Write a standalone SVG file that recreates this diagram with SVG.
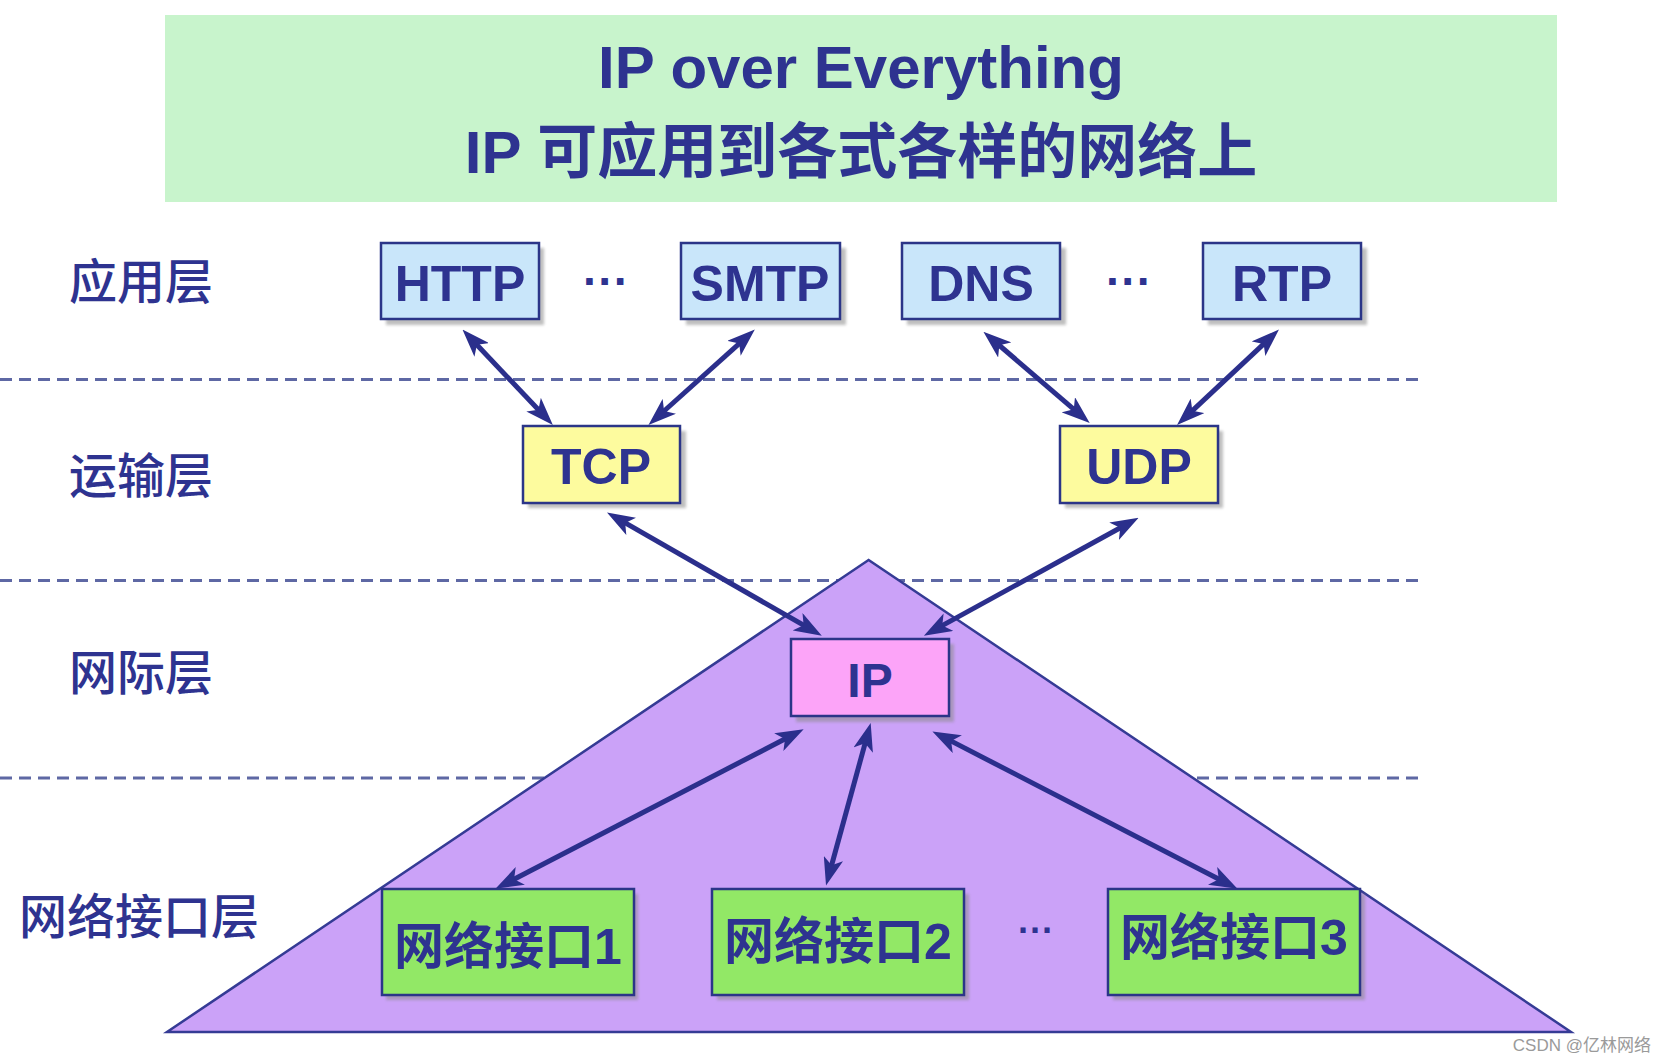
<svg xmlns="http://www.w3.org/2000/svg" width="1667" height="1062" viewBox="0 0 1667 1062">
<style>
.t{font-family:"Liberation Sans","Noto Sans CJK SC",sans-serif;fill:#2e3390;}
.b{font-weight:bold;}
.lay{font-family:"Noto Sans CJK SC","Liberation Sans",sans-serif;font-size:48px;fill:#2e3390;font-weight:500;}
.box{stroke:#2b3588;stroke-width:2.5;}
.sh{fill:#8a8a8a;opacity:0.55;filter:url(#blur);}
.app{fill:#c9e6fa;}
.tr{fill:#fdfb9e;}
.ip{fill:#fca4f8;}
.ni{fill:#92e866;}
.dash{stroke:#5e68a4;stroke-width:3;stroke-dasharray:12 7;fill:none;}
.arr{stroke:#2b2f8c;stroke-width:5;fill:none;marker-start:url(#ah);marker-end:url(#ah);}
</style>
<defs>
<filter id="blur" x="-10%" y="-10%" width="120%" height="120%"><feGaussianBlur stdDeviation="1.5"/></filter>
<marker id="ah" viewBox="0 0 28 20" markerWidth="28" markerHeight="20" refX="16" refY="10" markerUnits="userSpaceOnUse" orient="auto-start-reverse">
<path d="M0,0 L28,10 L0,20 L7,10 Z" fill="#2b2f8c"/>
</marker>
</defs>
<rect width="1667" height="1062" fill="#ffffff"/>

<g id="banner">
<rect x="165" y="15" width="1392" height="187" fill="#c8f4cc"/>
<text class="t b" x="861" y="88" font-size="60" text-anchor="middle">IP over Everything</text>
<text class="t b" x="861" y="173" font-size="60" text-anchor="middle">IP 可应用到各式各样的网络上</text>
</g>

<g id="layer-lines">
<line class="dash" x1="0" y1="379.5" x2="1425" y2="379.5"/>
<line class="dash" x1="0" y1="580.5" x2="1425" y2="580.5"/>
<line class="dash" x1="0" y1="778" x2="1425" y2="778"/>
</g>

<g id="pyramid">
<polygon points="868.6,560 167,1032 1571,1032" fill="#cba2f8" stroke="#353b95" stroke-width="2.5"/>
</g>

<g id="layer-labels">
<text class="lay" x="69" y="299">应用层</text>
<text class="lay" x="69" y="493">运输层</text>
<text class="lay" x="69" y="690">网际层</text>
<text class="lay" x="19" y="934">网络接口层</text>
</g>

<g id="http">
<rect class="sh" x="386" y="248" width="158" height="77"/>
<rect class="box app" x="381" y="243" width="158" height="76"/>
<text class="t b" x="460" y="301" font-size="50" text-anchor="middle">HTTP</text>
</g>
<g id="smtp">
<rect class="sh" x="686" y="248" width="160" height="77"/>
<rect class="box app" x="681" y="243" width="159" height="76"/>
<text class="t b" x="760" y="301" font-size="50" text-anchor="middle">SMTP</text>
</g>
<g id="dns">
<rect class="sh" x="907" y="248" width="159" height="77"/>
<rect class="box app" x="902" y="243" width="158" height="76"/>
<text class="t b" x="981" y="301" font-size="50" text-anchor="middle">DNS</text>
</g>
<g id="rtp">
<rect class="sh" x="1208" y="248" width="159" height="77"/>
<rect class="box app" x="1203" y="243" width="158" height="76"/>
<text class="t b" x="1282" y="301" font-size="50" text-anchor="middle">RTP</text>
</g>
<g id="dots-app">
<text class="t b" x="606" y="297" font-size="46" text-anchor="middle">···</text>
<text class="t b" x="1129" y="297" font-size="46" text-anchor="middle">···</text>
</g>

<g id="tcp">
<rect class="sh" x="528" y="431" width="158" height="77"/>
<rect class="box tr" x="523" y="426" width="157" height="77"/>
<text class="t b" x="601" y="484" font-size="50" text-anchor="middle">TCP</text>
</g>
<g id="udp">
<rect class="sh" x="1065" y="431" width="158" height="77"/>
<rect class="box tr" x="1060" y="426" width="158" height="77"/>
<text class="t b" x="1139" y="484" font-size="50" text-anchor="middle">UDP</text>
</g>

<g id="ip">
<rect class="sh" x="796" y="644" width="158" height="78"/>
<rect class="box ip" x="791" y="639" width="158" height="77"/>
<text class="t b" x="870" y="697" font-size="48" text-anchor="middle">IP</text>
</g>

<g id="ni1">
<rect class="sh" x="386" y="894" width="252" height="106"/>
<rect class="box ni" x="382" y="889" width="252" height="106"/>
<text class="t b" x="508" y="964" font-size="50" text-anchor="middle">网络接口1</text>
</g>
<g id="ni2">
<rect class="sh" x="717" y="894" width="252" height="106"/>
<rect class="box ni" x="712" y="889" width="252" height="106"/>
<text class="t b" x="838" y="959" font-size="50" text-anchor="middle">网络接口2</text>
</g>
<g id="ni3">
<rect class="sh" x="1113" y="894" width="252" height="106"/>
<rect class="box ni" x="1108" y="889" width="252" height="106"/>
<text class="t b" x="1234" y="955" font-size="50" text-anchor="middle">网络接口3</text>
</g>
<g id="dots-ni">
<text class="t b" x="1036" y="943" font-size="36" text-anchor="middle">···</text>
</g>

<g id="connectors">
<line class="arr" x1="470.7" y1="338.3" x2="544.6" y2="416.3"/>
<line class="arr" x1="745.9" y1="337.6" x2="657.4" y2="417"/>
<line class="arr" x1="992.5" y1="339.5" x2="1080.6" y2="415.2"/>
<line class="arr" x1="1270.2" y1="337.8" x2="1185.8" y2="416.8"/>
<line class="arr" x1="617.4" y1="518.4" x2="811.4" y2="629.7"/>
<line class="arr" x1="1128.1" y1="523.5" x2="934.4" y2="629.9"/>
<line class="arr" x1="793" y1="734.8" x2="506.1" y2="883.3"/>
<line class="arr" x1="867.5" y1="734.6" x2="829.2" y2="874"/>
<line class="arr" x1="943.1" y1="736.9" x2="1226.8" y2="883.3"/>
</g>

<text x="1651" y="1051" font-family="Liberation Sans,Noto Sans CJK SC,sans-serif" font-size="17" fill="#9a9a9a" text-anchor="end">CSDN @亿林网络</text>
</svg>
